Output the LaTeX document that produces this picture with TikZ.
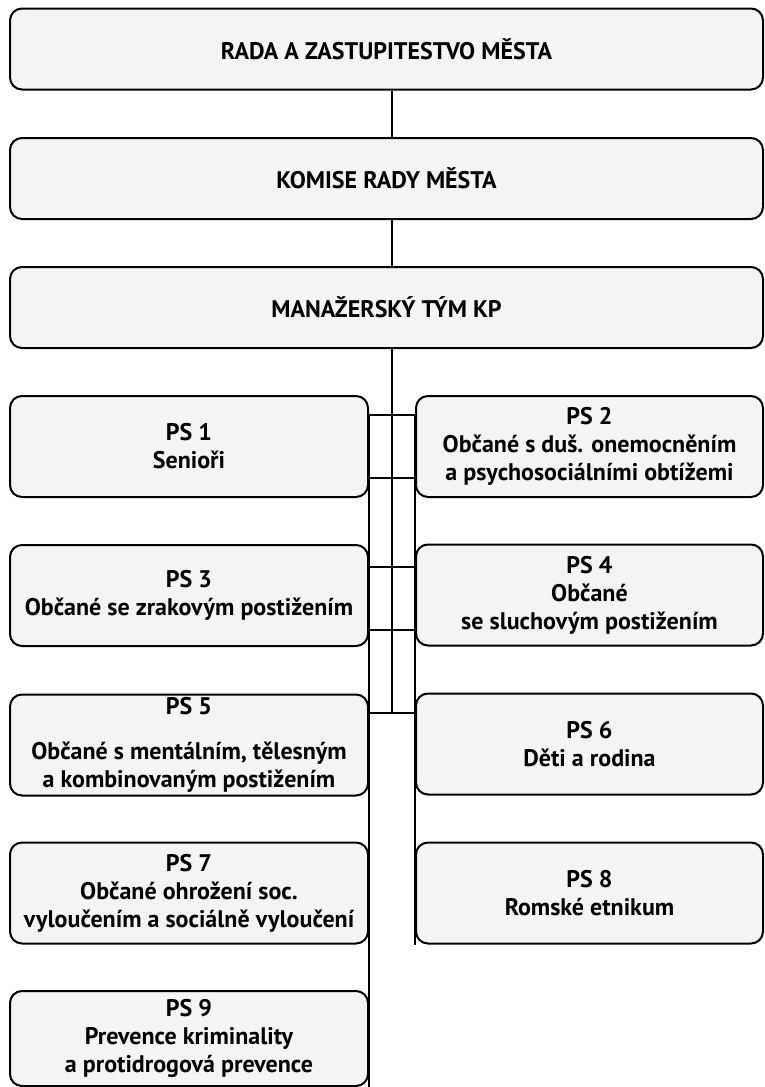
\documentclass[tikz,border=0pt]{standalone}
\usepackage{fontspec}
\setmainfont{PT Sans}
\definecolor{boxgray}{RGB}{243,244,244}
\tikzset{
  box/.style={draw, line width=2pt, rounded corners=12pt, fill=boxgray, align=center,
    inner sep=0pt, font=\bfseries\fontsize{24}{28}\selectfont},
  wide/.style={box, minimum width=753pt, minimum height=81pt},
  lbox/.style={box, minimum width=358pt, minimum height=101pt},
  rbox/.style={box, minimum width=347pt, minimum height=101pt},
  conn/.style={line width=2pt}
}
\begin{document}
\begin{tikzpicture}[x=1pt, y=-1pt]
\useasboundingbox (0,0) rectangle (764,1087);
\node[wide] (rada) at (386.5,49) {RADA A ZASTUPITESTVO MĚSTA};
\node[wide] (komise) at (386.5,178.5) {KOMISE RADY MĚSTA};
\node[wide] (tym) at (386.5,307.5) {MANAŽERSKÝ TÝM KP};
\node[lbox] (ps1) at (189,446.5) {PS 1\\Senioři};
\node[rbox] (ps2) at (589.5,446.5) {PS 2\\Občané s duš. onemocněním\\a psychosociálními obtížemi};
\node[lbox] (ps3) at (189,595.5) {PS 3\\Občané se zrakovým postižením};
\node[rbox] (ps4) at (589.5,595) {PS 4\\Občané\\se sluchovým postižením};
\node[lbox] (ps5) at (189,745) {PS 5\\[17pt]Občané s mentálním, tělesným\\a kombinovaným postižením};
\node[rbox] (ps6) at (589.5,744) {PS 6\\Děti a rodina};
\node[lbox] (ps7) at (189,893) {PS 7\\Občané ohrožení soc.\\vyloučením a sociálně vyloučení};
\node[rbox] (ps8) at (589.5,893) {PS 8\\Romské etnikum};
\node[lbox, minimum height=95pt] (ps9) at (189,1038.5) {PS 9\\Prevence kriminality\\a protidrogová prevence};
\coordinate (hub) at (392,713);
\draw[conn] (rada.south -| hub) -- (komise.north -| hub);
\draw[conn] (komise.south -| hub) -- (tym.north -| hub);
\draw[conn] (tym.south -| hub) -- (hub);
\foreach \y in {415,478,567,630,713}
  \draw[conn] (ps1.east |- 0,\y) -- (ps2.west |- 0,\y);
\draw[conn] (ps1.east |- 0,415) -- (ps9.east |- 0,1087);
\draw[conn] (ps2.west |- 0,415) -- (ps8.south west);
\end{tikzpicture}
\end{document}
